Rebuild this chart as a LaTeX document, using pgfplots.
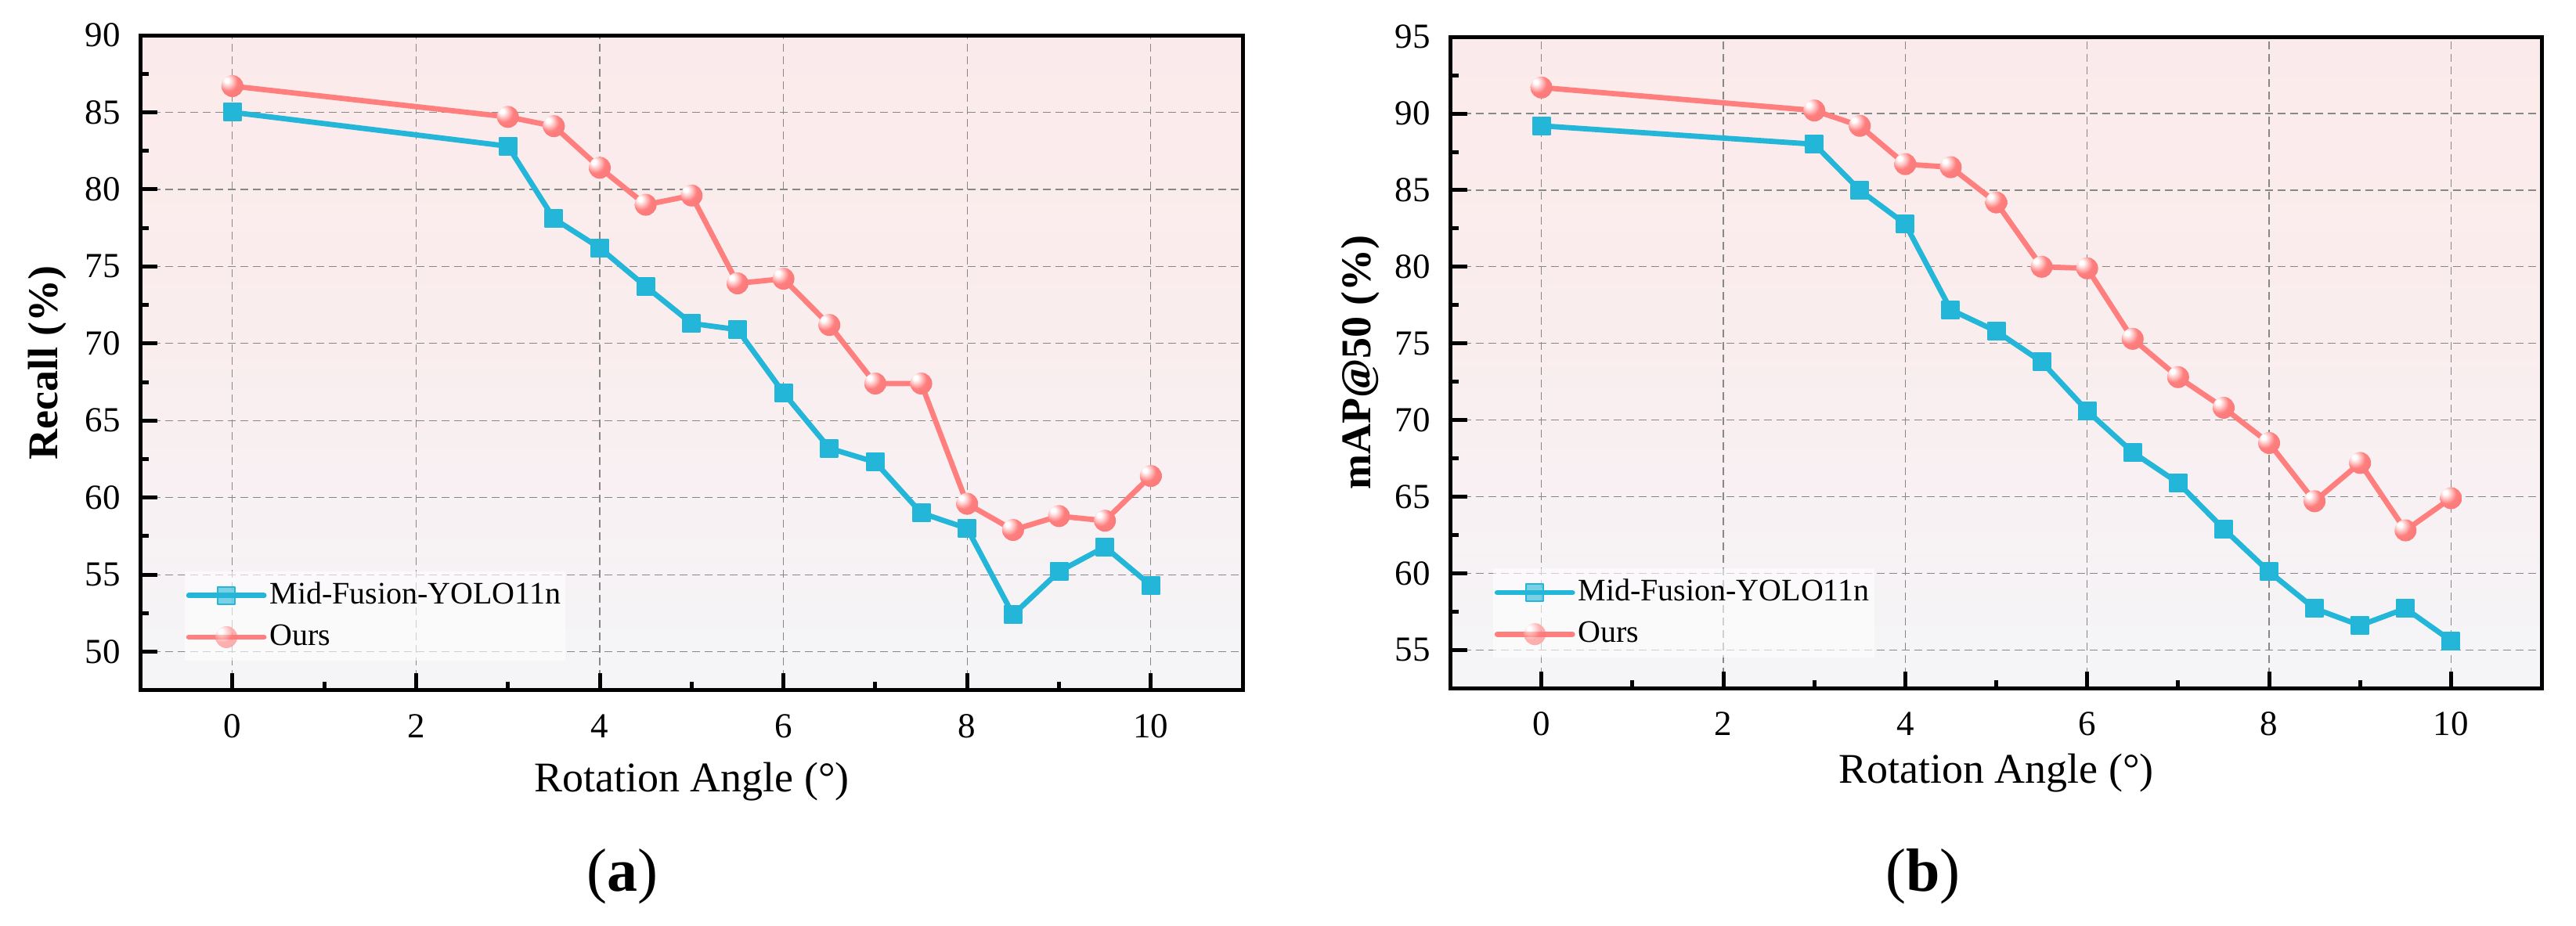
\documentclass[border=0pt]{standalone}
\usepackage{fontspec}
\setmainfont{Liberation Serif}
\usepackage{pgfplots}
\pgfplotsset{compat=1.18}
\definecolor{blueC}{RGB}{36,182,217}
\definecolor{redC}{RGB}{255,126,126}
\definecolor{bgTop}{RGB}{253,231,231}
\definecolor{bgMidA}{RGB}{250,237,238}
\definecolor{bgMidB}{RGB}{245,244,247}
\definecolor{bgBot}{RGB}{240,245,250}
\definecolor{gridC}{RGB}{135,135,135}
\pgfdeclareverticalshading{bgshade}{100bp}{color(0bp)=(bgBot); color(28bp)=(bgMidB); color(52bp)=(bgMidA); color(100bp)=(bgTop)}
\pgfdeclareradialshading{myballshade}{\pgfpoint{-14bp}{14bp}}{color(0bp)=(white); color(5bp)=(white); color(12bp)=(redC!40!white); color(22bp)=(redC); color(55bp)=(redC!93!black); color(80bp)=(redC!90!black)}
\pgfdeclareplotmark{myball}{\pgfpathcircle{\pgfpointorigin}{\pgfplotmarksize}\pgfshadepath{myballshade}{0}\pgfusepath{discard}}
\pgfplotsset{
  myaxis/.style={
    scale only axis,
    xmin=-1, xmax=11,
    xtick={0,2,4,6,8,10},
    minor x tick num=1, minor y tick num=1,
    tick align=inside, tick pos=left,
    major tick length=5.4pt, minor tick length=2.6pt,
    tick style={black, line width=1.25pt},
    axis line style={line width=1.25pt},
    grid=major,
    grid style={gridC, line width=0.3pt, dash pattern=on 2.5pt off 1.5pt},
    axis background/.style={shading=bgshade},
    tick label style={font=\fontsize{11.25}{13}\selectfont},
    /pgf/number format/assume math mode=true,
    xticklabel style={anchor=north, inner sep=0pt, yshift=-7.5pt},
    yticklabel style={anchor=east, inner sep=0pt, xshift=-6.25pt},
    every axis x label/.style={at={(axis description cs:0.5,0)}, anchor=base, font=\fontsize{13.5}{16}\selectfont},
    legend style={anchor=south west, draw=none, fill=white, fill opacity=0.6, text opacity=1,
      font=\fontsize{10}{12}\selectfont, inner xsep=0.5pt, inner ysep=1pt,
      nodes={inner xsep=1pt, inner ysep=2.5pt}},
    legend cell align=left,
    legend image code/.code={\draw[mark repeat=2,mark phase=2,#1] plot coordinates {(0pt,0pt) (12pt,0pt) (24pt,0pt)};},
  },
  blueplot/.style={blueC, line width=1.7pt, line cap=round, line join=round, mark=square*, mark size=2.75pt, mark options={solid, fill=blueC, draw=blueC, line width=0.5pt}},
  redplot/.style={redC, line width=1.7pt, line cap=round, line join=round, mark=myball, mark size=3.5pt, mark options={solid}},
}
\begin{document}
\begin{tikzpicture}
\path[use as bounding box] (0,0) rectangle (822.5pt,295.5pt);
\begin{axis}[myaxis,
  at={(44.875pt,75.05pt)}, anchor=south west,
  width=351.9pt, height=209.2pt,
  ymin=47.5, ymax=90,
  ytick={50,55,60,65,70,75,80,85,90},
  xlabel={Rotation Angle (°)},
  xlabel style={yshift=-32.5pt},
  every axis y label/.style={at={(axis description cs:-0.075,0.5)}, rotate=90, anchor=base, font=\fontsize{13.5}{16}\selectfont},
  ylabel={\textbf{Recall (\%)}},
  legend style={at={(axis description cs:0.0394,0.044)}},
]
\addplot[blueplot] coordinates {(0,85.0) (3,82.8) (3.5,78.1) (4,76.2) (4.5,73.7) (5,71.3) (5.5,70.9) (6,66.8) (6.5,63.2) (7,62.3) (7.5,59.0) (8,58.0) (8.5,52.4) (9,55.2) (9.5,56.8) (10,54.3)};
\addlegendentry{Mid-Fusion-YOLO11n}
\addplot[redplot] coordinates {(0,86.7) (3,84.7) (3.5,84.1) (4,81.4) (4.5,79.0) (5,79.6) (5.5,73.9) (6,74.2) (6.5,71.2) (7,67.4) (7.5,67.4) (8,59.6) (8.5,57.9) (9,58.8) (9.5,58.5) (10,61.4)};
\addlegendentry{Ours}
\end{axis}
\begin{axis}[myaxis,
  at={(463.125pt,75.7pt)}, anchor=south west,
  width=348.5pt, height=208pt,
  ymin=52.5, ymax=95,
  ytick={55,60,65,70,75,80,85,90,95},
  xlabel={Rotation Angle (°)},
  xlabel style={yshift=-30.25pt},
  every axis y label/.style={at={(axis description cs:-0.0735,0.5)}, rotate=90, anchor=base, font=\fontsize{13.5}{16}\selectfont},
  ylabel={\textbf{mAP@50 (\%)}},
  legend style={at={(axis description cs:0.0384,0.0457)}},
]
\addplot[blueplot] coordinates {(0,89.2) (3,88.0) (3.5,85.0) (4,82.8) (4.5,77.2) (5,75.8) (5.5,73.8) (6,70.6) (6.5,67.9) (7,65.9) (7.5,62.9) (8,60.1) (8.5,57.7) (9,56.6) (9.5,57.7) (10,55.6)};
\addlegendentry{Mid-Fusion-YOLO11n}
\addplot[redplot] coordinates {(0,91.7) (3,90.2) (3.5,89.2) (4,86.7) (4.5,86.5) (5,84.2) (5.5,80.0) (6,79.9) (6.5,75.3) (7,72.8) (7.5,70.8) (8,68.5) (8.5,64.7) (9,67.2) (9.5,62.8) (10,64.9)};
\addlegendentry{Ours}
\end{axis}
\node[font=\fontsize{19.5}{22}\selectfont, anchor=base] at (198.75pt,11pt) {(\textbf{a})};
\node[font=\fontsize{19.5}{22}\selectfont, anchor=base] at (614pt,11pt) {(\textbf{b})};
\end{tikzpicture}
\end{document}
